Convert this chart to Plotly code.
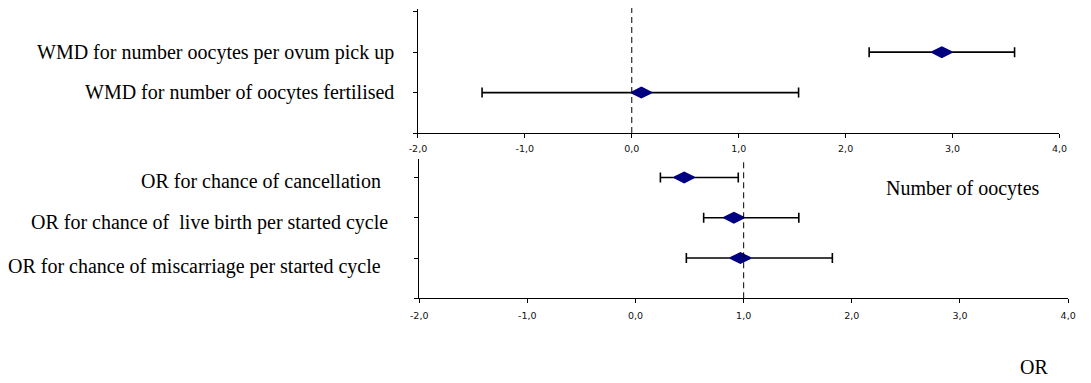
import plotly.graph_objects as go

# ---------------- data ----------------
wmd_labels = ["WMD for number oocytes per ovum pick up",
              "WMD for number of oocytes fertilised"]
wmd_pos = [2, 1]
wmd_est = [2.90, 0.09]
wmd_low = [2.22, -1.40]
wmd_high = [3.58, 1.56]

or_labels = ["OR for chance of cancellation",
             "OR for chance of\u00a0 live birth per started cycle",
             "OR for chance of miscarriage per started cycle"]
or_pos = [3, 2, 1]
or_est = [0.45, 0.91, 0.97]
or_low = [0.23, 0.63, 0.47]
or_high = [0.95, 1.51, 1.82]

x_tickvals = [-2, -1, 0, 1, 2, 3, 4]
x_ticktext = ["-2,0", "-1,0", "0,0", "1,0", "2,0", "3,0", "4,0"]
y_tickvals = [0, 1, 2, 3]

panel_title = "Number of oocytes"
or_axis_title = "OR"

# ---------------- styles ----------------
W, H = 1091, 383
NAVY = "#000080"
serif = "Liberation Serif, Times New Roman, serif"
tickfont = dict(family="DejaVu Sans, Verdana, sans-serif", size=9.5, color="#111")
wmd_label_right_px = [393, 393]
wmd_label_shift = [0, 0]
or_label_right_px = [380, 387, 380]
or_label_shift = [-4, -5, -8]

fig = go.Figure()

def add_forest(xa, ya, est, low, high, pos):
    fig.add_trace(go.Scatter(
        x=est, y=pos, xaxis=xa, yaxis=ya, mode="markers",
        marker=dict(symbol="diamond-wide", size=14, color=NAVY,
                    line=dict(color=NAVY, width=2)),
        error_x=dict(type="data", symmetric=False,
                     array=[h - e for h, e in zip(high, est)],
                     arrayminus=[e - l for e, l in zip(est, low)],
                     color="black", thickness=1.6, width=5),
        showlegend=False, hoverinfo="skip"))

add_forest("x", "y", wmd_est, wmd_low, wmd_high, wmd_pos)
add_forest("x2", "y2", or_est, or_low, or_high, or_pos)

xcommon = dict(range=[-2, 4], tickvals=x_tickvals, ticktext=x_ticktext,
               showline=True, linecolor="black", linewidth=1,
               ticks="outside", ticklen=4, tickcolor="black",
               showgrid=False, zeroline=False, tickfont=tickfont,
               fixedrange=True)
ycommon = dict(tickvals=y_tickvals, showticklabels=False,
               showline=True, linecolor="black", linewidth=1,
               ticks="outside", ticklen=4, tickcolor="black",
               showgrid=False, zeroline=False, fixedrange=True)

fig.update_layout(
    width=W, height=H, autosize=False,
    margin=dict(l=0, r=0, t=0, b=0),
    paper_bgcolor="white", plot_bgcolor="white",
    xaxis=dict(domain=[415.4 / W, 1067.1 / W], anchor="y",
               ticklabelstandoff=3, **xcommon),
    yaxis=dict(domain=[1 - 133 / H, 1 - 9.3 / H], anchor="x",
               range=[0, 3.06], **ycommon),
    xaxis2=dict(domain=[416.7 / W, 1075.9 / W], anchor="y2",
                ticklabelstandoff=4, **xcommon),
    yaxis2=dict(domain=[1 - 298.3 / H, 1 - 159.3 / H], anchor="x2",
                range=[0, 3.45], **ycommon),
)

# reference lines
fig.add_shape(type="line", xref="x", yref="y domain", x0=0, x1=0, y0=0, y1=1.01,
              line=dict(color="black", width=1, dash="6px,4px"))
fig.add_shape(type="line", xref="x2", yref="y2 domain", x0=1, x1=1, y0=0, y1=1,
              line=dict(color="black", width=1, dash="6px,4px"))

# row labels
for lab, p, rx, sh in zip(wmd_labels, wmd_pos, wmd_label_right_px, wmd_label_shift):
    fig.add_annotation(text=lab, xref="paper", yref="y", x=rx / W, y=p,
                       xanchor="right", yanchor="middle", yshift=sh, showarrow=False,
                       font=dict(family=serif, size=20, color="black"))
for lab, p, rx, sh in zip(or_labels, or_pos, or_label_right_px, or_label_shift):
    fig.add_annotation(text=lab, xref="paper", yref="y2", x=rx / W, y=p,
                       xanchor="right", yanchor="middle", yshift=sh, showarrow=False,
                       font=dict(family=serif, size=20, color="black"))

fig.add_annotation(text=panel_title, xref="paper", yref="paper",
                   x=969 / W, y=1 - 188 / H, xanchor="center", yanchor="middle",
                   showarrow=False, font=dict(family=serif, size=20, color="black"))
fig.add_annotation(text=or_axis_title, xref="paper", yref="paper",
                   x=1041.5 / W, y=1 - 366.5 / H, xanchor="center", yanchor="middle",
                   showarrow=False, font=dict(family=serif, size=20, color="black"))

fig.write_html("out.html", config={"displayModeBar": False, "staticPlot": True},
               post_script="document.body.style.margin='0';")
